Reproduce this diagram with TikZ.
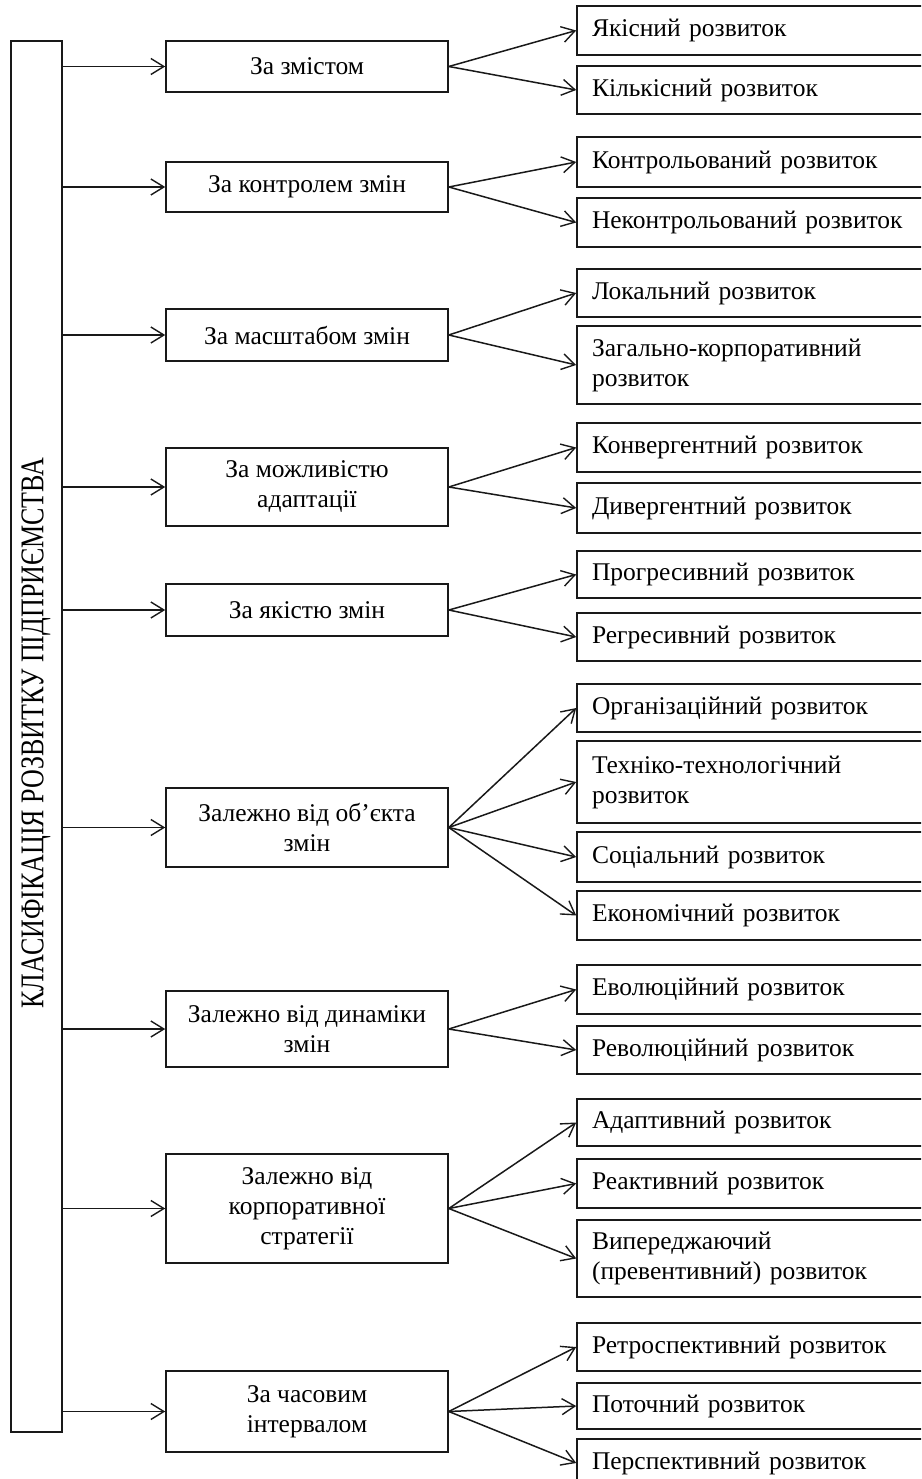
\documentclass[tikz,border=0pt]{standalone}
\usepackage{fontspec}
\setmainfont{Liberation Serif}
\usetikzlibrary{arrows.meta}
\begin{document}
\begin{tikzpicture}[x=1pt,y=-1pt,
  box/.style={draw=black!90, line width=1.6pt, inner sep=0pt, font=\fontsize{25.5}{30}\selectfont},
  mid/.style={box, minimum width=282pt, align=center},
  rbox/.style={box, minimum width=348pt, text width=318pt, align=left, inner xsep=15pt},
  arr/.style={draw=black!90, line width=1.5pt, -{Straight Barb[length=13pt,width=16pt,line width=1.4pt]}}]
\useasboundingbox (0,0) rectangle (921,1479);
\clip (0,0) rectangle (921,1479);
% left box
\node[box, minimum width=51pt, minimum height=1391pt] (L) at (36.5,736.5) {};
\node[rotate=90, inner sep=0pt, font=\fontsize{25.5}{30}\selectfont] (Lt) at (36,733) {\scalebox{1.02}[1.3]{КЛАСИФІКАЦІЯ РОЗВИТКУ ПІДПРИЄМСТВА}};
% middle boxes
\node[mid, minimum height=51pt] (m1) at (307,66.5) {За змістом};
\node[mid, minimum height=50pt] (m2) at (307,187) {За контролем змін};
\node[mid, minimum height=52pt] (m3) at (307,335) {За масштабом змін};
\node[mid, minimum height=78pt] (m4) at (307,487) {За можливістю\\адаптації};
\node[mid, minimum height=52pt] (m5) at (307,610) {За якістю змін};
\node[mid, minimum height=79pt] (m6) at (307,827.5) {Залежно від об’єкта\\змін};
\node[mid, minimum height=76pt] (m7) at (307,1029) {Залежно від динаміки\\змін};
\node[mid, minimum height=109pt] (m8) at (307,1208.5) {Залежно від\\корпоративної\\стратегії};
\node[mid, minimum height=81pt] (m9) at (307,1411.5) {За часовим\\інтервалом};
% right boxes
\node[rbox, minimum height=49pt] (r1) at (751,30.5) {Якісний розвиток};
\node[rbox, minimum height=48pt] (r2) at (751,90) {Кількісний розвиток};
\node[rbox, minimum height=50pt] (r3) at (751,162) {Контрольований розвиток};
\node[rbox, minimum height=49pt] (r4) at (751,222.5) {Неконтрольований розвиток};
\node[rbox, minimum height=48pt] (r5) at (751,293) {Локальний розвиток};
\node[rbox, minimum height=78pt] (r6) at (751,365) {Загально-корпоративний\\розвиток};
\node[rbox, minimum height=49pt] (r7) at (751,447.5) {Конвергентний розвиток};
\node[rbox, minimum height=50pt] (r8) at (751,508) {Дивергентний розвиток};
\node[rbox, minimum height=47pt] (r9) at (751,574.5) {Прогресивний розвиток};
\node[rbox, minimum height=48pt] (r10) at (751,637) {Регресивний розвиток};
\node[rbox, minimum height=48pt] (r11) at (751,708) {Організаційний розвиток};
\node[rbox, minimum height=82pt] (r12) at (751,782) {Техніко-технологічний\\розвиток};
\node[rbox, minimum height=50pt] (r13) at (751,857) {Соціальний розвиток};
\node[rbox, minimum height=49pt] (r14) at (751,915.5) {Економічний розвиток};
\node[rbox, minimum height=49pt] (r15) at (751,989.5) {Еволюційний розвиток};
\node[rbox, minimum height=48pt] (r16) at (751,1050) {Революційний розвиток};
\node[rbox, minimum height=47pt] (r17) at (751,1122.5) {Адаптивний розвиток};
\node[rbox, minimum height=49pt] (r18) at (751,1183.5) {Реактивний розвиток};
\node[rbox, minimum height=77pt] (r19) at (751,1258.5) {Випереджаючий\\(превентивний) розвиток};
\node[rbox, minimum height=48pt] (r20) at (751,1347) {Ретроспективний розвиток};
\node[rbox, minimum height=46pt] (r21) at (751,1406) {Поточний розвиток};
\node[rbox, minimum height=48pt] (r22) at (751,1463) {Перспективний розвиток};
% arrows from left box
\foreach \m in {m1,m2,m3,m4,m5,m6,m7,m8,m9}
  \draw[arr] (L.east |- \m.west) -- (\m.west);
% arrows to right boxes
\foreach \m/\r in {m1/r1,m1/r2,m2/r3,m2/r4,m3/r5,m3/r6,m4/r7,m4/r8,m5/r9,m5/r10,
  m6/r11,m6/r12,m6/r13,m6/r14,m7/r15,m7/r16,m8/r17,m8/r18,m8/r19,m9/r20,m9/r21,m9/r22}
  \draw[arr] (\m.east) -- (\r.west);
\end{tikzpicture}
\end{document}
